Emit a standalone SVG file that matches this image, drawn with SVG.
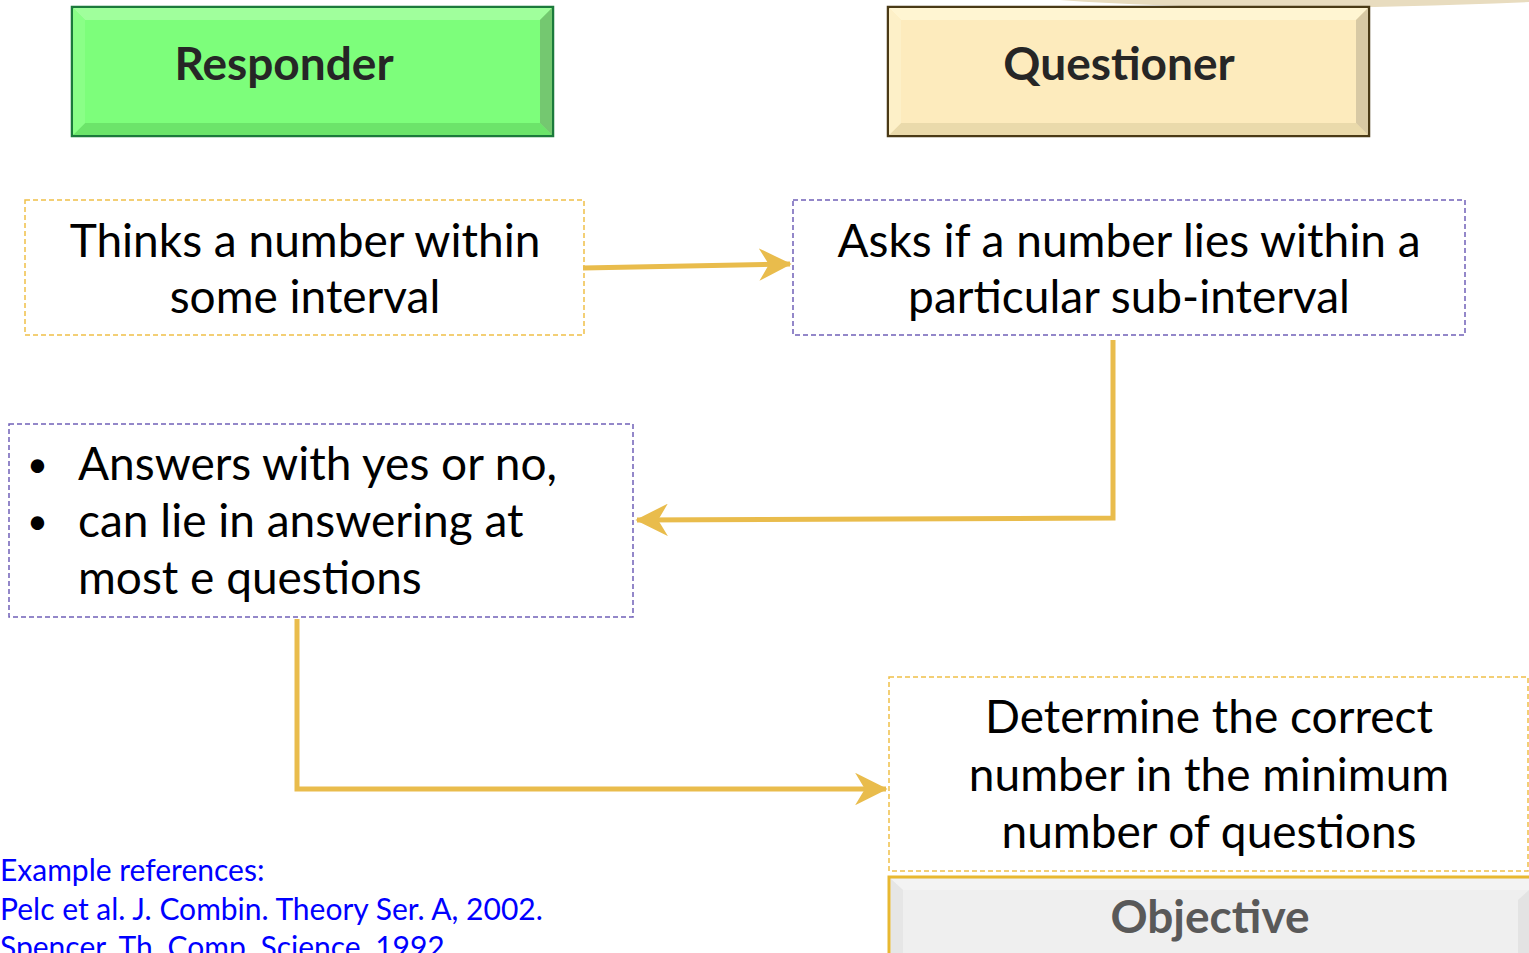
<svg xmlns="http://www.w3.org/2000/svg" width="1529" height="953" viewBox="0 0 1529 953">
<defs>
<style>
.t{font-family:Lato,"Open Sans","Liberation Sans",sans-serif;font-size:46px;fill:#000}
.b{font-family:Lato,"Open Sans","Liberation Sans",sans-serif;font-size:36px;fill:#000}
.h{font-family:Lato,"Open Sans","Liberation Sans",sans-serif;font-size:46px;font-weight:bold;fill:#262626}
.ref{font-family:Lato,"Open Sans","Liberation Sans",sans-serif;font-size:30px;fill:#0000ff}
.dy{fill:#fff;stroke:#f0c048;stroke-width:1.5;stroke-dasharray:5 3}
.dp{fill:#fff;stroke:#7060b8;stroke-width:1.5;stroke-dasharray:5 3}
.c{fill:none;stroke:#e9bc4c;stroke-width:5}
</style>
<marker id="ah" viewBox="0 0 10 10" refX="9.5" refY="5" markerWidth="6.5" markerHeight="6.5" markerUnits="strokeWidth" orient="auto">
<path d="M0,0 L10,5 L0,10 L3,5 z" fill="#e9bc4c"/>
</marker>
</defs>
<rect width="1529" height="953" fill="#fff"/>
<path d="M1060,0 Q1250,14 1529,2 L1529,0 Z" fill="#e8dcbf"/>

<g id="responder">
<rect x="72" y="7" width="481" height="129" fill="#7dfe7b" stroke="#1b7a3b" stroke-width="2.5"/>
<polygon points="73,8 552,8 540,20 85,20" fill="#a0ff9c"/>
<polygon points="73,135 552,135 540,123 85,123" fill="#6ce46a"/>
<polygon points="552,8 552,135 540,123 540,20" fill="#74c870"/>
<polygon points="73,8 73,135 85,123 85,20" fill="#8aff87"/>
<text class="h" x="284" y="80" text-anchor="middle">Responder</text>
</g>

<g id="questioner">
<rect x="888" y="7" width="481" height="129" fill="#fdebbd" stroke="#4a3a16" stroke-width="2.5"/>
<polygon points="889,8 1368,8 1356,20 901,20" fill="#fff5d2"/>
<polygon points="889,135 1368,135 1356,123 901,123" fill="#eadaab"/>
<polygon points="1368,8 1368,135 1356,123 1356,20" fill="#d8c9a4"/>
<polygon points="889,8 889,135 901,123 901,20" fill="#fdf0c8"/>
<text class="h" x="1119" y="80" text-anchor="middle">Questioner</text>
</g>

<g id="thinks">
<rect class="dy" x="25" y="200" width="559" height="135"/>
<text class="t" x="305" y="257" text-anchor="middle">Thinks a number within</text>
<text class="t" x="305" y="313" text-anchor="middle">some interval</text>
</g>

<g id="asks">
<rect class="dp" x="793" y="200" width="672" height="135"/>
<text class="t" x="1129" y="257" text-anchor="middle">Asks if a number lies within a</text>
<text class="t" x="1129" y="313" text-anchor="middle">particular sub-interval</text>
</g>

<g id="answers">
<rect class="dp" x="9" y="424" width="624" height="193"/>
<text class="b" x="27" y="477">•</text>
<text class="t" x="78" y="480">Answers with yes or no,</text>
<text class="b" x="27" y="534">•</text>
<text class="t" x="78" y="537">can lie in answering at</text>
<text class="t" x="78" y="594">most e questions</text>
</g>

<g id="determine">
<rect class="dy" x="889" y="677" width="639" height="194"/>
<text class="t" x="1209" y="733" text-anchor="middle">Determine the correct</text>
<text class="t" x="1209" y="791" text-anchor="middle">number in the minimum</text>
<text class="t" x="1209" y="848" text-anchor="middle">number of questions</text>
</g>

<g id="objective">
<rect x="889" y="877" width="660" height="90" fill="#efefef" stroke="#e8b830" stroke-width="3"/>
<polygon points="891,879 1529,879 1529,890 903,890" fill="#f3f3f3"/>
<polygon points="891,879 891,953 903,953 903,890" fill="#e6e6e6"/>
<polygon points="1529,890 1518,900 1518,953 1529,953" fill="#e3e3e3"/>
<text class="h" x="1210" y="933" text-anchor="middle" style="fill:#595959">Objective</text>
</g>

<g id="references">
<text class="ref" x="0" y="881">Example references:</text>
<text class="ref" x="0" y="920">Pelc et al. J. Combin. Theory Ser. A, 2002.</text>
<text class="ref" x="0" y="958">Spencer, Th. Comp. Science, 1992.</text>
</g>

<g id="connectors">
<line class="c" x1="583" y1="268" x2="790" y2="264" marker-end="url(#ah)"/>
<polyline class="c" points="1113,340 1113,518 637,520" marker-end="url(#ah)"/>
<polyline class="c" points="297,619 297,789 886,789" marker-end="url(#ah)"/>
</g>
</svg>
